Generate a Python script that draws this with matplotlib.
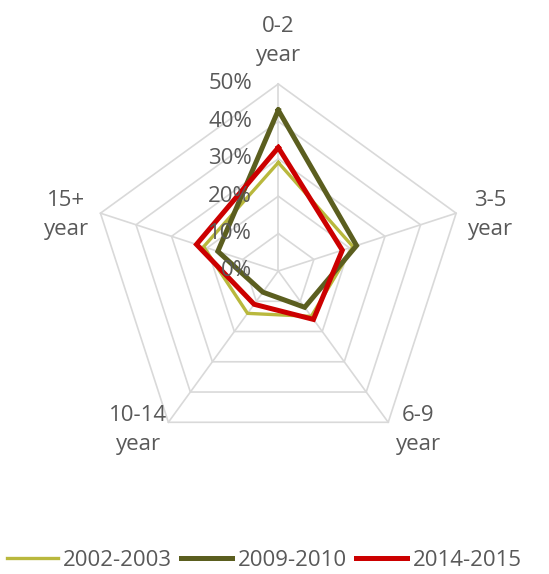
import numpy as np
import matplotlib
matplotlib.use("Agg")
import matplotlib.pyplot as plt

plt.rcParams['font.family'] = ['Open Sans', 'DejaVu Sans']

categories = ["0-2\nyear", "3-5\nyear", "6-9\nyear", "10-14\nyear", "15+\nyear"]
series_names = ["2002-2003", "2009-2010", "2014-2015"]
values_2002 = [0.29, 0.21, 0.15, 0.14, 0.21]
values_2009 = [0.43, 0.22, 0.12, 0.07, 0.17]
values_2014 = [0.33, 0.18, 0.16, 0.11, 0.23]
ticks = [0.0, 0.1, 0.2, 0.3, 0.4, 0.5]
tick_labels = ["0%", "10%", "20%", "30%", "40%", "50%"]

colors = ["#b9b83d", "#5b5e1f", "#cc0000"]
widths = [2.4, 3.6, 3.6]
grey = "#595959"
fs = 16

W, H = 549, 574
cx, cy = 278.3, 303.0      # centre in pixels from left / bottom
scale = 374.0              # pixels per unit value

fig = plt.figure(figsize=(W / 100, H / 100), dpi=100)
ax = fig.add_axes([0, 0, 1, 1])
ax.set_xlim(-cx / scale, (W - cx) / scale)
ax.set_ylim(-cy / scale, (H - cy) / scale)
ax.axis("off")

n = len(categories)
angles = np.pi / 2 - 2 * np.pi * np.arange(n) / n
ux, uy = np.cos(angles), np.sin(angles)

# pentagon grid + spokes
for r in ticks[1:]:
    ax.plot(np.append(ux, ux[0]) * r, np.append(uy, uy[0]) * r,
            color="#d9d9d9", lw=1.2, zorder=1)
for i in range(n):
    ax.plot([0, ux[i] * ticks[-1]], [0, uy[i] * ticks[-1]],
            color="#d9d9d9", lw=1.2, zorder=1)

# series
for vals, name, c, w in zip([values_2002, values_2009, values_2014],
                            series_names, colors, widths):
    v = np.array(vals)
    ax.plot(np.append(ux * v, ux[0] * v[0]), np.append(uy * v, uy[0] * v[0]),
            color=c, lw=w, label=name, solid_joinstyle="miter", zorder=3)

# radial tick labels
for r, lab in zip(ticks, tick_labels):
    ax.annotate(lab, (0, r), xytext=(-19, 0), textcoords="offset points",
                ha="right", va="center", fontsize=fs, color=grey, zorder=4)

# category labels, offset (pixels) from outer vertex
offsets = [(0, 43), (34, -2), (30, -8), (-30, -8), (-34, -2)]
for i, lab in enumerate(categories):
    dx, dy = offsets[i]
    ax.annotate(lab, (ux[i] * ticks[-1], uy[i] * ticks[-1]),
                xytext=(dx * 0.72, dy * 0.72), textcoords="offset points",
                ha="center", va="center", fontsize=fs, color=grey,
                linespacing=1.5)

leg = fig.legend(loc="center", bbox_to_anchor=(264 / W, 1 - 560 / H), ncol=3,
                 frameon=False, fontsize=fs, handlelength=2.3,
                 handletextpad=0.25, columnspacing=0.4, borderaxespad=0)
for t in leg.get_texts():
    t.set_color(grey)

fig.savefig("out.png", dpi=100)
